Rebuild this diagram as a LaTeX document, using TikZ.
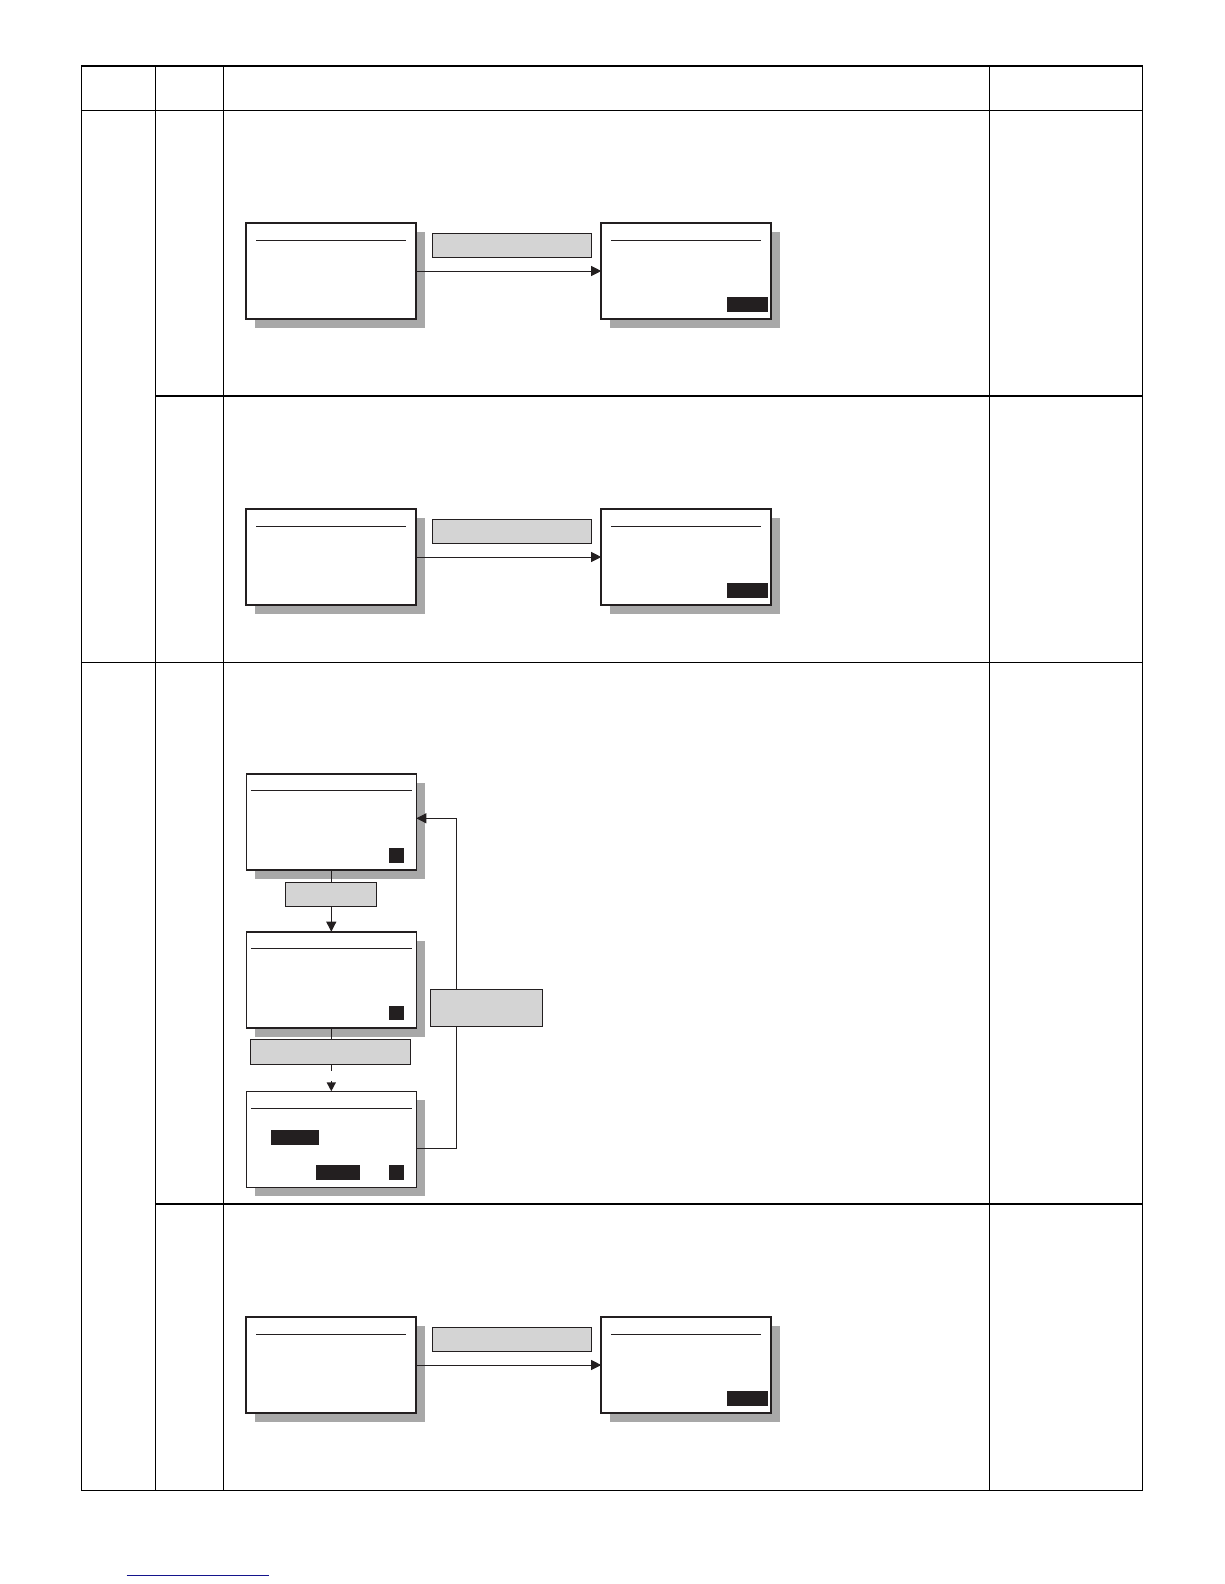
\documentclass[tikz,border=0pt]{standalone}
\usepackage{xcolor}
\usepackage{tikz}
\usetikzlibrary{arrows.meta, shadows}
\definecolor{keygray}{RGB}{212, 212, 212}
\definecolor{shadegray}{RGB}{168, 168, 168}
\definecolor{keyblack}{RGB}{35, 31, 32}
\definecolor{linkblue}{RGB}{20, 20, 140}

\begin{document}
\begin{tikzpicture}[
  x=1pt, y=-1pt,
  tableline/.style={line width=1.2pt, black},
  screen/.style={draw=keyblack, fill=white, line width=1.6pt, inner sep=0pt, outer sep=0pt, minimum width=170pt, minimum height=96pt,
    drop shadow={shadow xshift=9pt, shadow yshift=-9pt, fill=shadegray, opacity=1},
    path picture={\draw[line width=0.9pt, keyblack] ([shift={(#1,-17pt)}]path picture bounding box.north west) -- ([shift={(-#1,-17pt)}]path picture bounding box.north east);}},
  screen/.default=10pt,
  keybox/.style={draw=keyblack, fill=keygray, line width=0.8pt, inner sep=0pt, outer sep=0pt, minimum height=24pt},
  softkey/.style={fill=keyblack, inner sep=0pt, outer sep=0pt, minimum height=14.6pt},
  link/.style={line width=0.9pt, keyblack},
  msg/.style={link, -{Triangle[length=10pt, width=10pt]}},
  dashmsg/.style={msg, line width=1.6pt, dash pattern=on 6.5pt off 10pt, -{Triangle[length=9pt, width=9pt]}}
]
\useasboundingbox (0,0) rectangle (1224,1584);

% Table
\draw[tableline] (81.3,66) rectangle (1142.3,1490.3);
\draw[tableline] (81.3,110.3) -- (1142.3,110.3);
\draw[tableline] (155.3,66) -- (155.3,1490.3);
\draw[tableline] (223.3,66) -- (223.3,1490.3);
\draw[tableline] (989.3,66) -- (989.3,1490.3);
\draw[tableline] (155.3,396) -- (1142.3,396);
\draw[tableline] (81.3,662.3) -- (1142.3,662.3);
\draw[tableline] (155.3,1204) -- (1142.3,1204);

% Row 1
\node[screen] (s1a) at (331, 271) {};
\node[screen] (s1b) at (686.2, 271) {};
\node[softkey, minimum width=41pt] (b1) at (747.5, 304.3) {};
\node[keybox, minimum width=159pt] (k1) at (512.2, 245.3) {};
\draw[msg] (s1a) -- (s1b);

% Row 2
\node[screen] (s2a) at (331, 557) {};
\node[screen] (s2b) at (686.2, 557) {};
\node[softkey, minimum width=41pt] (b2) at (747.5, 590.3) {};
\node[keybox, minimum width=159pt] (k2) at (512.2, 531.3) {};
\draw[msg] (s2a) -- (s2b);

% Row 3
\node[screen=4.5pt] (sA) at (331.3, 821.8) {};
\node[screen=4.5pt] (sB) at (331.3, 979.7) {};
\node[screen=4.5pt] (sC) at (331.3, 1139.3) {};
\node[softkey, minimum width=15pt] (qA) at (396.5, 855.3) {};
\node[softkey, minimum width=15pt] (qB) at (396.5, 1013) {};
\node[softkey, minimum width=15pt] (qC) at (396.5, 1172.3) {};
\node[softkey, minimum width=47.7pt] (r1) at (294.8, 1137.3) {};
\node[softkey, minimum width=43.7pt] (r2) at (337.8, 1172.3) {};
\node[keybox, minimum width=91pt] (kA) at (331.3, 894.3) {};
\node[keybox, minimum width=160pt, minimum height=25pt] (kB) at (330.3, 1051.8) {};
\node[keybox, minimum width=112pt, minimum height=37pt] (kC) at (486.3, 1007.8) {};
\coordinate (fb) at (456.3, 1149);

\draw[link] (sA.south) -- (kA.north);
\draw[msg] (kA.south) -- (sB.north);
\draw[link, line width=1.6pt] (sB.south) -- (sB.south |- kB.north);
\draw[dashmsg] (sC.north |- kB.south) -- (sC.north);
\draw[link] ([yshift=-9pt]sC.east) -| (fb |- kC.south);
\draw[msg] (fb |- kC.north) |- ([yshift=3.5pt]sA.east);

% Row 4
\node[screen] (s4a) at (331, 1365) {};
\node[screen] (s4b) at (686.2, 1365) {};
\node[softkey, minimum width=41pt] (b4) at (747.5, 1398.3) {};
\node[keybox, minimum width=159pt] (k4) at (512.2, 1339.3) {};
\draw[msg] (s4a) -- (s4b);

% Footer link
\draw[linkblue, line width=1pt] (126.7,1575.3) -- (269,1575.3);

\end{tikzpicture}
\end{document}
